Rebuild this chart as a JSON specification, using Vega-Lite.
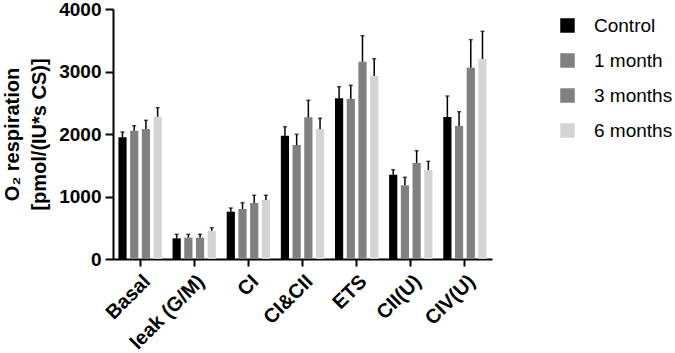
{
  "$schema": "https://vega.github.io/schema/vega-lite/v6.json",
  "autosize": {"type": "none"},
  "padding": {"left": 113, "top": 9, "right": 183, "bottom": 94},
  "width": 379,
  "height": 250,
  "background": "white",
  "config": {
    "font": "Liberation Sans",
    "view": {"stroke": null}
  },
  "data": {
    "values": [
      {"cat": "Basal", "group": "Control", "value": 1947, "top": 2032},
      {"cat": "Basal", "group": "1 month", "value": 2053, "top": 2133},
      {"cat": "Basal", "group": "3 months", "value": 2080, "top": 2219},
      {"cat": "Basal", "group": "6 months", "value": 2277, "top": 2421},
      {"cat": "leak (G/M)", "group": "Control", "value": 331, "top": 395},
      {"cat": "leak (G/M)", "group": "1 month", "value": 341, "top": 395},
      {"cat": "leak (G/M)", "group": "3 months", "value": 341, "top": 395},
      {"cat": "leak (G/M)", "group": "6 months", "value": 453, "top": 501},
      {"cat": "CI", "group": "Control", "value": 757, "top": 816},
      {"cat": "CI", "group": "1 month", "value": 800, "top": 901},
      {"cat": "CI", "group": "3 months", "value": 896, "top": 1019},
      {"cat": "CI", "group": "6 months", "value": 944, "top": 1019},
      {"cat": "CI&CII", "group": "Control", "value": 1973, "top": 2117},
      {"cat": "CI&CII", "group": "1 month", "value": 1824, "top": 1995},
      {"cat": "CI&CII", "group": "3 months", "value": 2267, "top": 2539},
      {"cat": "CI&CII", "group": "6 months", "value": 2075, "top": 2251},
      {"cat": "ETS", "group": "Control", "value": 2571, "top": 2757},
      {"cat": "ETS", "group": "1 month", "value": 2560, "top": 2779},
      {"cat": "ETS", "group": "3 months", "value": 3157, "top": 3573},
      {"cat": "ETS", "group": "6 months", "value": 2928, "top": 3205},
      {"cat": "CII(U)", "group": "Control", "value": 1349, "top": 1429},
      {"cat": "CII(U)", "group": "1 month", "value": 1179, "top": 1307},
      {"cat": "CII(U)", "group": "3 months", "value": 1536, "top": 1733},
      {"cat": "CII(U)", "group": "6 months", "value": 1424, "top": 1563},
      {"cat": "CIV(U)", "group": "Control", "value": 2272, "top": 2608},
      {"cat": "CIV(U)", "group": "1 month", "value": 2128, "top": 2357},
      {"cat": "CIV(U)", "group": "3 months", "value": 3061, "top": 3509},
      {"cat": "CIV(U)", "group": "6 months", "value": 3200, "top": 3643}
    ]
  },
  "encoding": {
    "x": {
      "field": "cat",
      "type": "nominal",
      "sort": null,
      "scale": {"paddingInner": 0.2, "paddingOuter": 0.1},
      "axis": {
        "title": null,
        "labelAngle": -45,
        "labelFont": "Liberation Sans",
        "labelFontWeight": "bold",
        "labelFontSize": 20,
        "labelColor": "black",
        "labelPadding": 5,
        "domainColor": "black",
        "domainWidth": 2,
        "tickColor": "black",
        "tickWidth": 2,
        "tickSize": 7
      }
    },
    "xOffset": {
      "field": "group",
      "type": "nominal",
      "sort": ["Control", "1 month", "3 months", "6 months"],
      "scale": {"paddingInner": 0.3}
    }
  },
  "layer": [
    {
      "mark": {"type": "bar"},
      "encoding": {
        "y": {
          "field": "value",
          "type": "quantitative",
          "scale": {"domain": [0, 4000], "nice": false},
          "axis": {
            "values": [0, 1000, 2000, 3000, 4000],
            "format": "d",
            "grid": false,
            "title": ["O₂ respiration", "[pmol/(IU*s CS)]"],
            "titleFont": "Liberation Sans",
            "titleFontWeight": "bold",
            "titleFontSize": 20,
            "titleLineHeight": 27,
            "titleColor": "black",
            "titlePadding": 9,
            "labelFont": "Liberation Sans",
            "labelFontWeight": "bold",
            "labelFontSize": 19,
            "labelColor": "black",
            "labelPadding": 4,
            "domainColor": "black",
            "domainWidth": 2,
            "tickColor": "black",
            "tickWidth": 2,
            "tickSize": 8
          }
        },
        "color": {
          "field": "group",
          "type": "nominal",
          "sort": ["Control", "1 month", "3 months", "6 months"],
          "scale": {
            "domain": ["Control", "1 month", "3 months", "6 months"],
            "range": ["#000000", "#808080", "#808080", "#d4d4d4"]
          },
          "legend": {
            "title": null,
            "orient": "none",
            "legendX": 445,
            "legendY": 7,
            "symbolType": "square",
            "symbolSize": 210,
            "symbolStrokeWidth": 0,
            "symbolOpacity": 1,
            "labelFont": "Liberation Sans",
            "labelFontSize": 19,
            "labelColor": "black",
            "labelOffset": 17,
            "rowPadding": 15
          }
        }
      }
    },
    {
      "mark": {"type": "rule", "color": "black", "strokeWidth": 1.5},
      "encoding": {
        "y": {"field": "value", "type": "quantitative"},
        "y2": {"field": "top"}
      }
    },
    {
      "mark": {"type": "tick", "color": "black", "thickness": 1.5, "size": 4},
      "encoding": {
        "y": {"field": "top", "type": "quantitative"}
      }
    }
  ]
}
